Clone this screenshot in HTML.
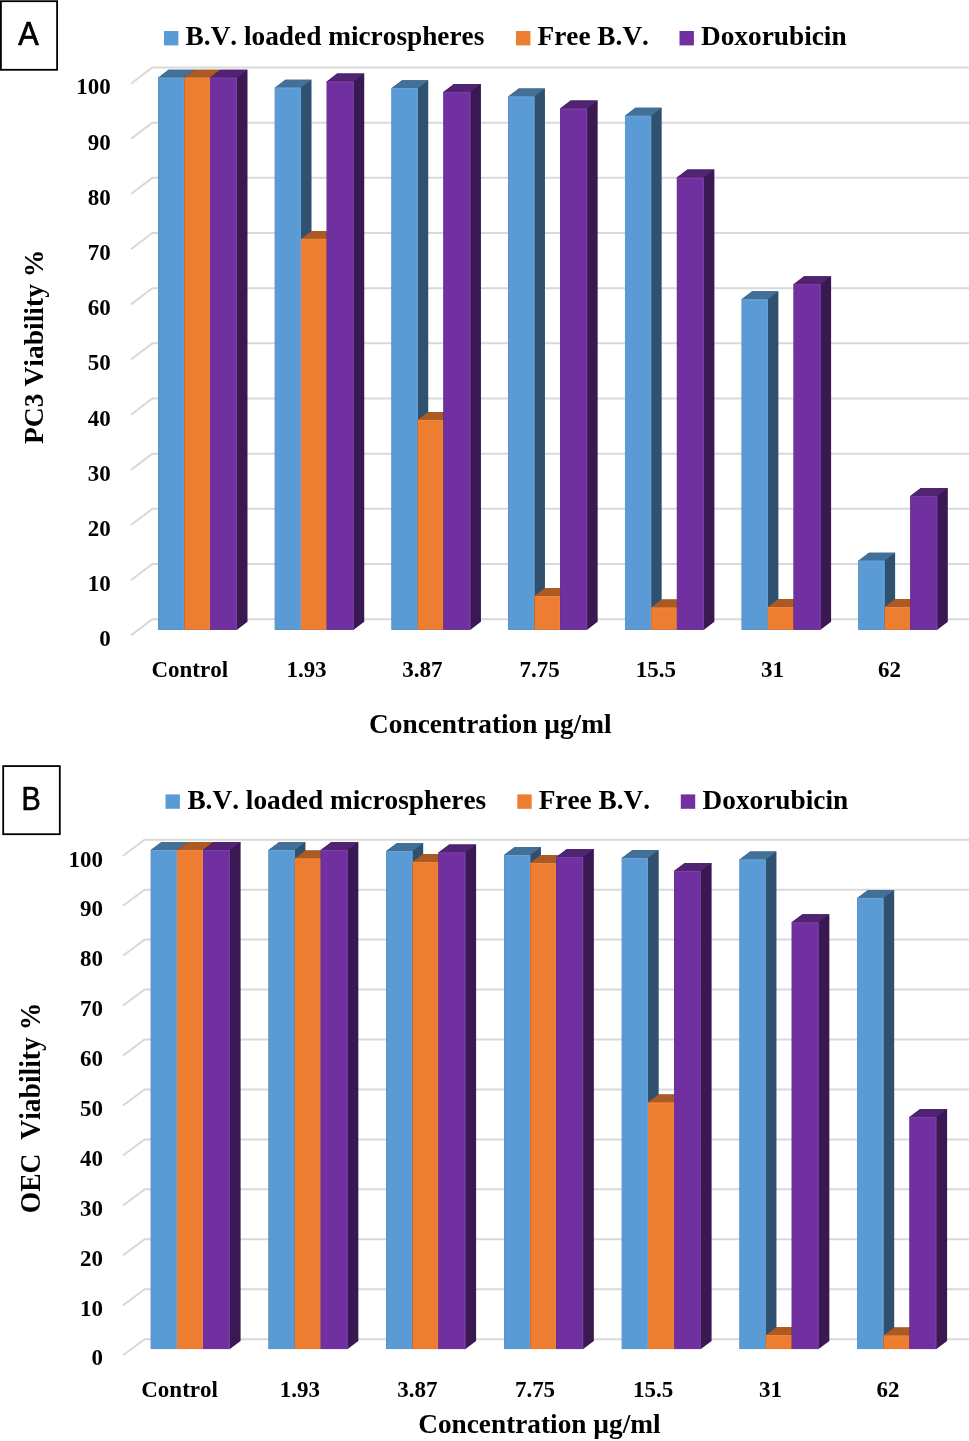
<!DOCTYPE html>
<html><head><meta charset="utf-8"><title>Cell viability charts</title>
<style>
html,body{margin:0;padding:0;background:#fff;}
body{width:969px;height:1441px;overflow:hidden;}
svg{display:block;will-change:transform;}
.ax{font-family:"Liberation Serif",serif;font-weight:bold;font-size:23px;font-kerning:none;fill:#000;}
.tt{font-family:"Liberation Serif",serif;font-weight:bold;font-size:27.3px;font-kerning:none;fill:#000;}
.lb{font-family:"Liberation Sans",sans-serif;font-size:32px;fill:#000;stroke:#000;stroke-width:0.7px;}
</style></head><body>

<svg width="969" height="1441" viewBox="0 0 969 1441">
<path d="M131 635.4L152.3 619.2H974M131 580.23L152.3 564.03H974M131 525.06L152.3 508.86H974M131 469.89L152.3 453.69H974M131 414.72L152.3 398.52H974M131 359.55L152.3 343.35H974M131 304.38L152.3 288.18H974M131 249.21L152.3 233.01H974M131 194.04L152.3 177.84H974M131 138.87L152.3 122.67H974M131 83.7L152.3 67.5H974" fill="none" stroke="#d9d9d9" stroke-width="2"/>
<path d="M158.1 629.7V77.7L168.6 69.7H194.8V621.7L184.3 629.7Z" fill="#2f516f"/>
<path d="M158.1 78.7V77.7L168.6 69.7H194.8L184.3 77.7V78.7Z" fill="#427099"/>
<rect x="158.1" y="77.7" width="26.2" height="552" fill="#5b9bd5"/>
<path d="M158.6 78.2H183.8V629.7" fill="none" stroke="#68a3d8" stroke-width="1"/>
<path d="M184.3 629.7V77.7L194.8 69.7H220.5V621.7L210 629.7Z" fill="#7b4119"/>
<path d="M184.3 78.7V77.7L194.8 69.7H220.5L210 77.7V78.7Z" fill="#ab5a23"/>
<rect x="184.3" y="77.7" width="25.7" height="552" fill="#ed7d31"/>
<path d="M184.8 78.2H209.5V629.7" fill="none" stroke="#ee8741" stroke-width="1"/>
<path d="M210 629.7V77.7L220.5 69.7H247.5V621.7L237 629.7Z" fill="#3a1953"/>
<path d="M210 78.7V77.7L220.5 69.7H247.5L237 77.7V78.7Z" fill="#512373"/>
<rect x="210" y="77.7" width="27" height="552" fill="#7030a0"/>
<path d="M210.5 78.2H236.5V629.7" fill="none" stroke="#7b41a8" stroke-width="1"/>
<path d="M274.82 629.7V87.64L285.32 79.64H311.52V621.7L301.02 629.7Z" fill="#2f516f"/>
<path d="M274.82 88.64V87.64L285.32 79.64H311.52L301.02 87.64V88.64Z" fill="#427099"/>
<rect x="274.82" y="87.64" width="26.2" height="542.06" fill="#5b9bd5"/>
<path d="M275.32 88.14H300.52V629.7" fill="none" stroke="#68a3d8" stroke-width="1"/>
<path d="M301.02 629.7V238.88L311.52 230.88H337.22V621.7L326.72 629.7Z" fill="#7b4119"/>
<path d="M301.02 239.88V238.88L311.52 230.88H337.22L326.72 238.88V239.88Z" fill="#ab5a23"/>
<rect x="301.02" y="238.88" width="25.7" height="390.82" fill="#ed7d31"/>
<path d="M301.52 239.38H326.22V629.7" fill="none" stroke="#ee8741" stroke-width="1"/>
<path d="M326.72 629.7V81.56L337.22 73.56H364.22V621.7L353.72 629.7Z" fill="#3a1953"/>
<path d="M326.72 82.56V81.56L337.22 73.56H364.22L353.72 81.56V82.56Z" fill="#512373"/>
<rect x="326.72" y="81.56" width="27" height="548.14" fill="#7030a0"/>
<path d="M327.22 82.06H353.22V629.7" fill="none" stroke="#7b41a8" stroke-width="1"/>
<path d="M391.54 629.7V88.19L402.04 80.19H428.24V621.7L417.74 629.7Z" fill="#2f516f"/>
<path d="M391.54 89.19V88.19L402.04 80.19H428.24L417.74 88.19V89.19Z" fill="#427099"/>
<rect x="391.54" y="88.19" width="26.2" height="541.51" fill="#5b9bd5"/>
<path d="M392.04 88.69H417.24V629.7" fill="none" stroke="#68a3d8" stroke-width="1"/>
<path d="M417.74 629.7V419.94L428.24 411.94H453.94V621.7L443.44 629.7Z" fill="#7b4119"/>
<path d="M417.74 420.94V419.94L428.24 411.94H453.94L443.44 419.94V420.94Z" fill="#ab5a23"/>
<rect x="417.74" y="419.94" width="25.7" height="209.76" fill="#ed7d31"/>
<path d="M418.24 420.44H442.94V629.7" fill="none" stroke="#ee8741" stroke-width="1"/>
<path d="M443.44 629.7V92.05L453.94 84.05H480.94V621.7L470.44 629.7Z" fill="#3a1953"/>
<path d="M443.44 93.05V92.05L453.94 84.05H480.94L470.44 92.05V93.05Z" fill="#512373"/>
<rect x="443.44" y="92.05" width="27" height="537.65" fill="#7030a0"/>
<path d="M443.94 92.55H469.94V629.7" fill="none" stroke="#7b41a8" stroke-width="1"/>
<path d="M508.26 629.7V96.47L518.76 88.47H544.96V621.7L534.46 629.7Z" fill="#2f516f"/>
<path d="M508.26 97.47V96.47L518.76 88.47H544.96L534.46 96.47V97.47Z" fill="#427099"/>
<rect x="508.26" y="96.47" width="26.2" height="533.23" fill="#5b9bd5"/>
<path d="M508.76 96.97H533.96V629.7" fill="none" stroke="#68a3d8" stroke-width="1"/>
<path d="M534.46 629.7V596.03L544.96 588.03H570.66V621.7L560.16 629.7Z" fill="#7b4119"/>
<path d="M534.46 597.03V596.03L544.96 588.03H570.66L560.16 596.03V597.03Z" fill="#ab5a23"/>
<rect x="534.46" y="596.03" width="25.7" height="33.67" fill="#ed7d31"/>
<path d="M534.96 596.53H559.66V629.7" fill="none" stroke="#ee8741" stroke-width="1"/>
<path d="M560.16 629.7V108.61L570.66 100.61H597.66V621.7L587.16 629.7Z" fill="#3a1953"/>
<path d="M560.16 109.61V108.61L570.66 100.61H597.66L587.16 108.61V109.61Z" fill="#512373"/>
<rect x="560.16" y="108.61" width="27" height="521.09" fill="#7030a0"/>
<path d="M560.66 109.11H586.66V629.7" fill="none" stroke="#7b41a8" stroke-width="1"/>
<path d="M624.98 629.7V115.79L635.48 107.79H661.68V621.7L651.18 629.7Z" fill="#2f516f"/>
<path d="M624.98 116.79V115.79L635.48 107.79H661.68L651.18 115.79V116.79Z" fill="#427099"/>
<rect x="624.98" y="115.79" width="26.2" height="513.91" fill="#5b9bd5"/>
<path d="M625.48 116.29H650.68V629.7" fill="none" stroke="#68a3d8" stroke-width="1"/>
<path d="M651.18 629.7V607.62L661.68 599.62H687.38V621.7L676.88 629.7Z" fill="#7b4119"/>
<path d="M651.18 608.62V607.62L661.68 599.62H687.38L676.88 607.62V608.62Z" fill="#ab5a23"/>
<rect x="651.18" y="607.62" width="25.7" height="22.08" fill="#ed7d31"/>
<path d="M651.68 608.12H676.38V629.7" fill="none" stroke="#ee8741" stroke-width="1"/>
<path d="M676.88 629.7V177.61L687.38 169.61H714.38V621.7L703.88 629.7Z" fill="#3a1953"/>
<path d="M676.88 178.61V177.61L687.38 169.61H714.38L703.88 177.61V178.61Z" fill="#512373"/>
<rect x="676.88" y="177.61" width="27" height="452.09" fill="#7030a0"/>
<path d="M677.38 178.11H703.38V629.7" fill="none" stroke="#7b41a8" stroke-width="1"/>
<path d="M741.7 629.7V299.33L752.2 291.33H778.4V621.7L767.9 629.7Z" fill="#2f516f"/>
<path d="M741.7 300.33V299.33L752.2 291.33H778.4L767.9 299.33V300.33Z" fill="#427099"/>
<rect x="741.7" y="299.33" width="26.2" height="330.37" fill="#5b9bd5"/>
<path d="M742.2 299.83H767.4V629.7" fill="none" stroke="#68a3d8" stroke-width="1"/>
<path d="M767.9 629.7V607.07L778.4 599.07H804.1V621.7L793.6 629.7Z" fill="#7b4119"/>
<path d="M767.9 608.07V607.07L778.4 599.07H804.1L793.6 607.07V608.07Z" fill="#ab5a23"/>
<rect x="767.9" y="607.07" width="25.7" height="22.63" fill="#ed7d31"/>
<path d="M768.4 607.57H793.1V629.7" fill="none" stroke="#ee8741" stroke-width="1"/>
<path d="M793.6 629.7V284.15L804.1 276.15H831.1V621.7L820.6 629.7Z" fill="#3a1953"/>
<path d="M793.6 285.15V284.15L804.1 276.15H831.1L820.6 284.15V285.15Z" fill="#512373"/>
<rect x="793.6" y="284.15" width="27" height="345.55" fill="#7030a0"/>
<path d="M794.1 284.65H820.1V629.7" fill="none" stroke="#7b41a8" stroke-width="1"/>
<path d="M858.42 629.7V560.7L868.92 552.7H895.12V621.7L884.62 629.7Z" fill="#2f516f"/>
<path d="M858.42 561.7V560.7L868.92 552.7H895.12L884.62 560.7V561.7Z" fill="#427099"/>
<rect x="858.42" y="560.7" width="26.2" height="69" fill="#5b9bd5"/>
<path d="M858.92 561.2H884.12V629.7" fill="none" stroke="#68a3d8" stroke-width="1"/>
<path d="M884.62 629.7V607.07L895.12 599.07H920.82V621.7L910.32 629.7Z" fill="#7b4119"/>
<path d="M884.62 608.07V607.07L895.12 599.07H920.82L910.32 607.07V608.07Z" fill="#ab5a23"/>
<rect x="884.62" y="607.07" width="25.7" height="22.63" fill="#ed7d31"/>
<path d="M885.12 607.57H909.82V629.7" fill="none" stroke="#ee8741" stroke-width="1"/>
<path d="M910.32 629.7V496.12L920.82 488.12H947.82V621.7L937.32 629.7Z" fill="#3a1953"/>
<path d="M910.32 497.12V496.12L920.82 488.12H947.82L937.32 496.12V497.12Z" fill="#512373"/>
<rect x="910.32" y="496.12" width="27" height="133.58" fill="#7030a0"/>
<path d="M910.82 496.62H936.82V629.7" fill="none" stroke="#7b41a8" stroke-width="1"/>
<text transform="translate(110.7 646.39) scale(1 1.02)" class="ax" text-anchor="end">0</text>
<text transform="translate(110.7 591.18) scale(1 1.02)" class="ax" text-anchor="end">10</text>
<text transform="translate(110.7 535.97) scale(1 1.02)" class="ax" text-anchor="end">20</text>
<text transform="translate(110.7 480.76) scale(1 1.02)" class="ax" text-anchor="end">30</text>
<text transform="translate(110.7 425.55) scale(1 1.02)" class="ax" text-anchor="end">40</text>
<text transform="translate(110.7 370.34) scale(1 1.02)" class="ax" text-anchor="end">50</text>
<text transform="translate(110.7 315.13) scale(1 1.02)" class="ax" text-anchor="end">60</text>
<text transform="translate(110.7 259.92) scale(1 1.02)" class="ax" text-anchor="end">70</text>
<text transform="translate(110.7 204.71) scale(1 1.02)" class="ax" text-anchor="end">80</text>
<text transform="translate(110.7 149.5) scale(1 1.02)" class="ax" text-anchor="end">90</text>
<text transform="translate(110.7 94.29) scale(1 1.02)" class="ax" text-anchor="end">100</text>
<text transform="translate(189.7 677.3) scale(1 1.02)" class="ax" text-anchor="middle">Control</text>
<text transform="translate(306.5 677.3) scale(1 1.02)" class="ax" text-anchor="middle">1.93</text>
<text transform="translate(422.4 677.3) scale(1 1.02)" class="ax" text-anchor="middle">3.87</text>
<text transform="translate(539.7 677.3) scale(1 1.02)" class="ax" text-anchor="middle">7.75</text>
<text transform="translate(655.9 677.3) scale(1 1.02)" class="ax" text-anchor="middle">15.5</text>
<text transform="translate(772.5 677.3) scale(1 1.02)" class="ax" text-anchor="middle">31</text>
<text transform="translate(889.4 677.3) scale(1 1.02)" class="ax" text-anchor="middle">62</text>
<text transform="translate(490.3 733) scale(1 1.0)" class="tt" text-anchor="middle">Concentration µg/ml</text>
<text transform="translate(43.2 346.8) rotate(-90) scale(1.01 1.0)" class="tt" text-anchor="middle">PC3 Viability %</text>
<rect x="164" y="31" width="14.4" height="14.4" fill="#5b9bd5"/>
<text transform="translate(185.6 44.8) scale(1 1.0)" class="tt">B.V. loaded microspheres</text>
<rect x="516" y="31" width="14.4" height="14.4" fill="#ed7d31"/>
<text transform="translate(537.5 44.8) scale(1 1.0)" class="tt">Free B.V.</text>
<rect x="679.5" y="31" width="14.4" height="14.4" fill="#7030a0"/>
<text transform="translate(701 44.8) scale(1 1.0)" class="tt">Doxorubicin</text>
<rect x="0.9" y="1.2" width="56.2" height="68.6" fill="none" stroke="#000" stroke-width="1.8"/>
<text transform="translate(28.6 44.5) scale(0.96 1.045)" class="lb" text-anchor="middle">A</text>
<path d="M123 1355.3L144.6 1339.2H974M123 1305.35L144.6 1289.25H974M123 1255.4L144.6 1239.3H974M123 1205.45L144.6 1189.35H974M123 1155.5L144.6 1139.4H974M123 1105.55L144.6 1089.45H974M123 1055.6L144.6 1039.5H974M123 1005.65L144.6 989.55H974M123 955.7L144.6 939.6H974M123 905.75L144.6 889.65H974M123 855.8L144.6 839.7H974" fill="none" stroke="#d9d9d9" stroke-width="2"/>
<path d="M150.8 1349.1V850L161.5 842H187.7V1341.1L177 1349.1Z" fill="#2f516f"/>
<path d="M150.8 851V850L161.5 842H187.7L177 850V851Z" fill="#427099"/>
<rect x="150.8" y="850" width="26.2" height="499.1" fill="#5b9bd5"/>
<path d="M151.3 850.5H176.5V1349.1" fill="none" stroke="#68a3d8" stroke-width="1"/>
<path d="M177 1349.1V850L187.7 842H213.7V1341.1L203 1349.1Z" fill="#7b4119"/>
<path d="M177 851V850L187.7 842H213.7L203 850V851Z" fill="#ab5a23"/>
<rect x="177" y="850" width="26" height="499.1" fill="#ed7d31"/>
<path d="M177.5 850.5H202.5V1349.1" fill="none" stroke="#ee8741" stroke-width="1"/>
<path d="M203 1349.1V850L213.7 842H240.6V1341.1L229.9 1349.1Z" fill="#3a1953"/>
<path d="M203 851V850L213.7 842H240.6L229.9 850V851Z" fill="#512373"/>
<rect x="203" y="850" width="26.9" height="499.1" fill="#7030a0"/>
<path d="M203.5 850.5H229.4V1349.1" fill="none" stroke="#7b41a8" stroke-width="1"/>
<path d="M268.55 1349.1V850L279.25 842H305.45V1341.1L294.75 1349.1Z" fill="#2f516f"/>
<path d="M268.55 851V850L279.25 842H305.45L294.75 850V851Z" fill="#427099"/>
<rect x="268.55" y="850" width="26.2" height="499.1" fill="#5b9bd5"/>
<path d="M269.05 850.5H294.25V1349.1" fill="none" stroke="#68a3d8" stroke-width="1"/>
<path d="M294.75 1349.1V858.48L305.45 850.48H331.45V1341.1L320.75 1349.1Z" fill="#7b4119"/>
<path d="M294.75 859.48V858.48L305.45 850.48H331.45L320.75 858.48V859.48Z" fill="#ab5a23"/>
<rect x="294.75" y="858.48" width="26" height="490.62" fill="#ed7d31"/>
<path d="M295.25 858.98H320.25V1349.1" fill="none" stroke="#ee8741" stroke-width="1"/>
<path d="M320.75 1349.1V850L331.45 842H358.35V1341.1L347.65 1349.1Z" fill="#3a1953"/>
<path d="M320.75 851V850L331.45 842H358.35L347.65 850V851Z" fill="#512373"/>
<rect x="320.75" y="850" width="26.9" height="499.1" fill="#7030a0"/>
<path d="M321.25 850.5H347.15V1349.1" fill="none" stroke="#7b41a8" stroke-width="1"/>
<path d="M386.3 1349.1V851L397 843H423.2V1341.1L412.5 1349.1Z" fill="#2f516f"/>
<path d="M386.3 852V851L397 843H423.2L412.5 851V852Z" fill="#427099"/>
<rect x="386.3" y="851" width="26.2" height="498.1" fill="#5b9bd5"/>
<path d="M386.8 851.5H412V1349.1" fill="none" stroke="#68a3d8" stroke-width="1"/>
<path d="M412.5 1349.1V861.98L423.2 853.98H449.2V1341.1L438.5 1349.1Z" fill="#7b4119"/>
<path d="M412.5 862.98V861.98L423.2 853.98H449.2L438.5 861.98V862.98Z" fill="#ab5a23"/>
<rect x="412.5" y="861.98" width="26" height="487.12" fill="#ed7d31"/>
<path d="M413 862.48H438V1349.1" fill="none" stroke="#ee8741" stroke-width="1"/>
<path d="M438.5 1349.1V852.5L449.2 844.5H476.1V1341.1L465.4 1349.1Z" fill="#3a1953"/>
<path d="M438.5 853.5V852.5L449.2 844.5H476.1L465.4 852.5V853.5Z" fill="#512373"/>
<rect x="438.5" y="852.5" width="26.9" height="496.6" fill="#7030a0"/>
<path d="M439 853H464.9V1349.1" fill="none" stroke="#7b41a8" stroke-width="1"/>
<path d="M504.05 1349.1V854.99L514.75 846.99H540.95V1341.1L530.25 1349.1Z" fill="#2f516f"/>
<path d="M504.05 855.99V854.99L514.75 846.99H540.95L530.25 854.99V855.99Z" fill="#427099"/>
<rect x="504.05" y="854.99" width="26.2" height="494.11" fill="#5b9bd5"/>
<path d="M504.55 855.49H529.75V1349.1" fill="none" stroke="#68a3d8" stroke-width="1"/>
<path d="M530.25 1349.1V862.98L540.95 854.98H566.95V1341.1L556.25 1349.1Z" fill="#7b4119"/>
<path d="M530.25 863.98V862.98L540.95 854.98H566.95L556.25 862.98V863.98Z" fill="#ab5a23"/>
<rect x="530.25" y="862.98" width="26" height="486.12" fill="#ed7d31"/>
<path d="M530.75 863.48H555.75V1349.1" fill="none" stroke="#ee8741" stroke-width="1"/>
<path d="M556.25 1349.1V856.99L566.95 848.99H593.85V1341.1L583.15 1349.1Z" fill="#3a1953"/>
<path d="M556.25 857.99V856.99L566.95 848.99H593.85L583.15 856.99V857.99Z" fill="#512373"/>
<rect x="556.25" y="856.99" width="26.9" height="492.11" fill="#7030a0"/>
<path d="M556.75 857.49H582.65V1349.1" fill="none" stroke="#7b41a8" stroke-width="1"/>
<path d="M621.8 1349.1V857.99L632.5 849.99H658.7V1341.1L648 1349.1Z" fill="#2f516f"/>
<path d="M621.8 858.99V857.99L632.5 849.99H658.7L648 857.99V858.99Z" fill="#427099"/>
<rect x="621.8" y="857.99" width="26.2" height="491.11" fill="#5b9bd5"/>
<path d="M622.3 858.49H647.5V1349.1" fill="none" stroke="#68a3d8" stroke-width="1"/>
<path d="M648 1349.1V1102.54L658.7 1094.54H684.7V1341.1L674 1349.1Z" fill="#7b4119"/>
<path d="M648 1103.54V1102.54L658.7 1094.54H684.7L674 1102.54V1103.54Z" fill="#ab5a23"/>
<rect x="648" y="1102.54" width="26" height="246.56" fill="#ed7d31"/>
<path d="M648.5 1103.04H673.5V1349.1" fill="none" stroke="#ee8741" stroke-width="1"/>
<path d="M674 1349.1V870.96L684.7 862.96H711.6V1341.1L700.9 1349.1Z" fill="#3a1953"/>
<path d="M674 871.96V870.96L684.7 862.96H711.6L700.9 870.96V871.96Z" fill="#512373"/>
<rect x="674" y="870.96" width="26.9" height="478.14" fill="#7030a0"/>
<path d="M674.5 871.46H700.4V1349.1" fill="none" stroke="#7b41a8" stroke-width="1"/>
<path d="M739.55 1349.1V859.48L750.25 851.48H776.45V1341.1L765.75 1349.1Z" fill="#2f516f"/>
<path d="M739.55 860.48V859.48L750.25 851.48H776.45L765.75 859.48V860.48Z" fill="#427099"/>
<rect x="739.55" y="859.48" width="26.2" height="489.62" fill="#5b9bd5"/>
<path d="M740.05 859.98H765.25V1349.1" fill="none" stroke="#68a3d8" stroke-width="1"/>
<path d="M765.75 1349.1V1335.13L776.45 1327.13H802.45V1341.1L791.75 1349.1Z" fill="#7b4119"/>
<path d="M765.75 1336.13V1335.13L776.45 1327.13H802.45L791.75 1335.13V1336.13Z" fill="#ab5a23"/>
<rect x="765.75" y="1335.13" width="26" height="13.97" fill="#ed7d31"/>
<path d="M766.25 1335.63H791.25V1349.1" fill="none" stroke="#ee8741" stroke-width="1"/>
<path d="M791.75 1349.1V922.37L802.45 914.37H829.35V1341.1L818.65 1349.1Z" fill="#3a1953"/>
<path d="M791.75 923.37V922.37L802.45 914.37H829.35L818.65 922.37V923.37Z" fill="#512373"/>
<rect x="791.75" y="922.37" width="26.9" height="426.73" fill="#7030a0"/>
<path d="M792.25 922.87H818.15V1349.1" fill="none" stroke="#7b41a8" stroke-width="1"/>
<path d="M857.3 1349.1V897.91L868 889.91H894.2V1341.1L883.5 1349.1Z" fill="#2f516f"/>
<path d="M857.3 898.91V897.91L868 889.91H894.2L883.5 897.91V898.91Z" fill="#427099"/>
<rect x="857.3" y="897.91" width="26.2" height="451.19" fill="#5b9bd5"/>
<path d="M857.8 898.41H883V1349.1" fill="none" stroke="#68a3d8" stroke-width="1"/>
<path d="M883.5 1349.1V1335.62L894.2 1327.62H920.2V1341.1L909.5 1349.1Z" fill="#7b4119"/>
<path d="M883.5 1336.62V1335.62L894.2 1327.62H920.2L909.5 1335.62V1336.62Z" fill="#ab5a23"/>
<rect x="883.5" y="1335.62" width="26" height="13.48" fill="#ed7d31"/>
<path d="M884 1336.12H909V1349.1" fill="none" stroke="#ee8741" stroke-width="1"/>
<path d="M909.5 1349.1V1117.02L920.2 1109.02H947.1V1341.1L936.4 1349.1Z" fill="#3a1953"/>
<path d="M909.5 1118.02V1117.02L920.2 1109.02H947.1L936.4 1117.02V1118.02Z" fill="#512373"/>
<rect x="909.5" y="1117.02" width="26.9" height="232.08" fill="#7030a0"/>
<path d="M910 1117.52H935.9V1349.1" fill="none" stroke="#7b41a8" stroke-width="1"/>
<text transform="translate(103 1365.46) scale(1 1.02)" class="ax" text-anchor="end">0</text>
<text transform="translate(103 1315.57) scale(1 1.02)" class="ax" text-anchor="end">10</text>
<text transform="translate(103 1265.68) scale(1 1.02)" class="ax" text-anchor="end">20</text>
<text transform="translate(103 1215.79) scale(1 1.02)" class="ax" text-anchor="end">30</text>
<text transform="translate(103 1165.9) scale(1 1.02)" class="ax" text-anchor="end">40</text>
<text transform="translate(103 1116.01) scale(1 1.02)" class="ax" text-anchor="end">50</text>
<text transform="translate(103 1066.12) scale(1 1.02)" class="ax" text-anchor="end">60</text>
<text transform="translate(103 1016.23) scale(1 1.02)" class="ax" text-anchor="end">70</text>
<text transform="translate(103 966.34) scale(1 1.02)" class="ax" text-anchor="end">80</text>
<text transform="translate(103 916.45) scale(1 1.02)" class="ax" text-anchor="end">90</text>
<text transform="translate(103 866.56) scale(1 1.02)" class="ax" text-anchor="end">100</text>
<text transform="translate(179.55 1397) scale(1 1.02)" class="ax" text-anchor="middle">Control</text>
<text transform="translate(299.8 1397) scale(1 1.02)" class="ax" text-anchor="middle">1.93</text>
<text transform="translate(417.4 1397) scale(1 1.02)" class="ax" text-anchor="middle">3.87</text>
<text transform="translate(535 1397) scale(1 1.02)" class="ax" text-anchor="middle">7.75</text>
<text transform="translate(653.2 1397) scale(1 1.02)" class="ax" text-anchor="middle">15.5</text>
<text transform="translate(770.6 1397) scale(1 1.02)" class="ax" text-anchor="middle">31</text>
<text transform="translate(888.1 1397) scale(1 1.02)" class="ax" text-anchor="middle">62</text>
<text transform="translate(539.4 1433.2) scale(1 1.0)" class="tt" text-anchor="middle">Concentration µg/ml</text>
<text transform="translate(39.8 1108) rotate(-90) scale(1.01 1.06)" class="tt" text-anchor="middle">OEC  Viability %</text>
<rect x="165.5" y="794.4" width="14.4" height="14.4" fill="#5b9bd5"/>
<text transform="translate(187.4 808.7) scale(1 1.0)" class="tt">B.V. loaded microspheres</text>
<rect x="517.3" y="794.4" width="14.4" height="14.4" fill="#ed7d31"/>
<text transform="translate(538.7 808.7) scale(1 1.0)" class="tt">Free B.V.</text>
<rect x="680.8" y="794.4" width="14.4" height="14.4" fill="#7030a0"/>
<text transform="translate(702.6 808.7) scale(1 1.0)" class="tt">Doxorubicin</text>
<rect x="3.2" y="766.1" width="56.6" height="68.1" fill="none" stroke="#000" stroke-width="1.8"/>
<text transform="translate(31 810) scale(0.9 1.045)" class="lb" text-anchor="middle">B</text>
</svg>
</body></html>
